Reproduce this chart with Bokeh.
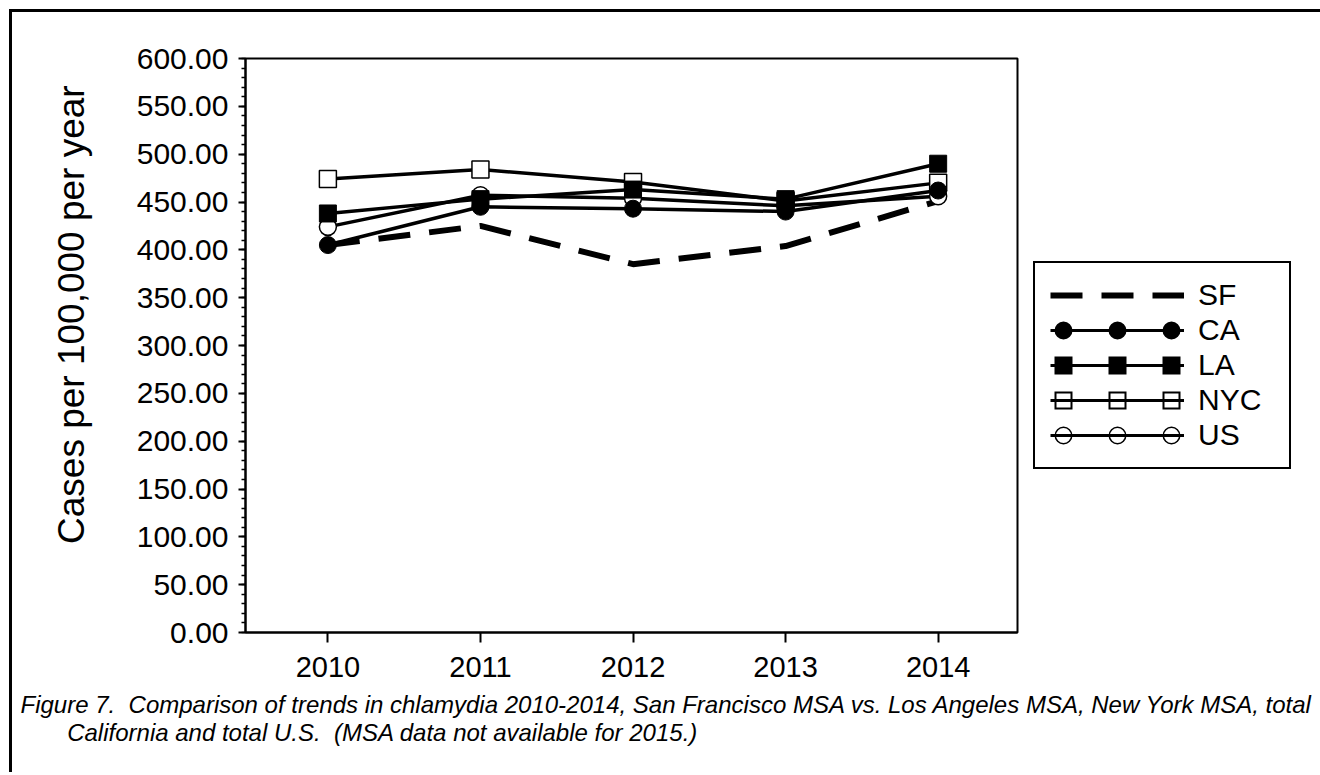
from bokeh.plotting import figure
from bokeh.models import (SingleIntervalTicker, FixedTicker, NumeralTickFormatter, Range1d,
                          Legend, LegendItem, Title)
from bokeh.embed import file_html
from bokeh.resources import INLINE

# ---- data ----
years = [2010, 2011, 2012, 2013, 2014]
sf = [405, 425, 385, 404, 451]
ca = [405, 445, 443, 440, 462]
la = [438, 453, 463, 453, 490]
nyc = [474, 484, 471, 451, 470]
us = [424, 457, 454, 446, 456]
series_names = ["SF", "CA", "LA", "NYC", "US"]
y_label = "\u00a0" * 6 + "Cases per 100,000 per year"
caption1 = ("Figure 7.\u00a0 Comparison of trends in chlamydia 2010-2014, San Francisco MSA vs. "
            "Los Angeles MSA, New York MSA, total")
caption2 = "California and total U.S.\u00a0 (MSA data not available for 2015.)"

FONT = "Liberation Sans"

p = figure(frame_width=772, frame_height=574,
           min_border_left=233, min_border_right=295, min_border_top=46, min_border_bottom=140,
           x_range=Range1d(2009.46, 2014.52), y_range=Range1d(0, 600),
           output_backend="svg", toolbar_location=None)
p.styles = {"border-top": "3px solid black", "border-left": "3px solid black",
            "margin-top": "9px", "margin-left": "9px"}
p.xgrid.visible = False
p.ygrid.visible = False
p.outline_line_color = "black"
p.outline_line_width = 2
p.outline_line_alpha = 1.0
p.background_fill_color = "white"
p.border_fill_color = "white"

# y axis
ya = p.yaxis[0]
ya.ticker = SingleIntervalTicker(interval=50, num_minor_ticks=5)
ya.formatter = NumeralTickFormatter(format="0.00")
ya.axis_line_width = 2
ya.major_tick_line_width = 2
ya.minor_tick_line_width = 1.5
ya.major_tick_out = 7
ya.major_tick_in = 0
ya.minor_tick_out = 4
ya.minor_tick_in = 0
ya.major_label_text_font = FONT
ya.major_label_text_font_size = "30px"
ya.major_label_text_color = "black"
ya.major_label_standoff = 10
ya.axis_label = y_label
ya.axis_label_text_font = FONT
ya.axis_label_text_font_size = "37px"
ya.axis_label_text_font_style = "normal"
ya.axis_label_text_color = "black"
ya.axis_label_standoff = 42

# x axis
xa = p.xaxis[0]
xa.ticker = FixedTicker(ticks=years, minor_ticks=[])
xa.axis_line_width = 2
xa.major_tick_line_width = 2
xa.major_tick_out = 10
xa.major_tick_in = 0
xa.major_label_text_font = FONT
xa.major_label_text_font_size = "29px"
xa.major_label_text_color = "black"
xa.major_label_standoff = 14

LW = 3.5
MS = 17

# series
r_sf = p.line(years, sf, line_color="black", line_width=6, line_dash="32 19")
r_us_l = p.line(years, us, line_color="black", line_width=LW)
r_us_m = p.scatter(years, us, marker="circle", size=MS, fill_color="white", line_color="black", line_width=1.5)
r_nyc_l = p.line(years, nyc, line_color="black", line_width=LW)
r_nyc_m = p.scatter(years, nyc, marker="square", size=MS, fill_color="white", line_color="black", line_width=1.5)
r_la_l = p.line(years, la, line_color="black", line_width=LW)
r_la_m = p.scatter(years, la, marker="square", size=MS, fill_color="black", line_color="black")
r_ca_l = p.line(years, ca, line_color="black", line_width=LW)
r_ca_m = p.scatter(years, ca, marker="circle", size=MS, fill_color="black", line_color="black")

# legend sample glyphs: hidden copies of the series, styled so that the legend
# shows a line with three markers
def sample(yvals, width, dash, offset, color, cap):
    return p.line(years, yvals, line_color=color, line_width=width, line_dash=dash,
                  line_dash_offset=offset, line_cap=cap, visible=False)

ca_dots = sample(ca, 18, "0 54", 41, "black", "round")
ca_thin = sample(ca, 3, "solid", 0, "black", "butt")
la_sq = sample(la, 18, "18 36", 50, "black", "butt")
la_thin = sample(la, 3, "solid", 0, "black", "butt")
nyc_sq_o = sample(nyc, 18, "18 36", 50, "black", "butt")
nyc_sq_i = sample(nyc, 14, "14 40", 48, "white", "butt")
nyc_thin = sample(nyc, 3, "solid", 0, "black", "butt")
us_c_o = sample(us, 18, "0 54", 41, "black", "round")
us_c_i = sample(us, 15, "0 54", 41, "white", "round")
us_thin = sample(us, 3, "solid", 0, "black", "butt")

items = [
    LegendItem(label=series_names[0], renderers=[r_sf]),
    LegendItem(label=series_names[1], renderers=[ca_thin, ca_dots]),
    LegendItem(label=series_names[2], renderers=[la_thin, la_sq]),
    LegendItem(label=series_names[3], renderers=[nyc_sq_o, nyc_sq_i, nyc_thin]),
    LegendItem(label=series_names[4], renderers=[us_c_o, us_c_i, us_thin]),
]
legend = Legend(items=items, location=(16, 163), margin=0, padding=15,
                glyph_width=134, glyph_height=32, label_height=32, label_width=76,
                label_standoff=14, spacing=1, click_policy="none",
                label_text_font=FONT, label_text_font_size="30px", label_text_color="black",
                border_line_color="black", border_line_width=2, border_line_alpha=1.0,
                background_fill_color="white", background_fill_alpha=1.0)
p.add_layout(legend, "right")

# caption (two lines, second one indented)
caption = caption1 + "\n" + "\u00a0" * 7 + caption2
p.add_layout(Title(text=caption, align="left", offset=-225, standoff=20,
                   text_font=FONT, text_font_size="24px", text_font_style="italic",
                   text_line_height=1.05, text_color="black"), "below")

open("out.html", "w").write(file_html(p, INLINE))
